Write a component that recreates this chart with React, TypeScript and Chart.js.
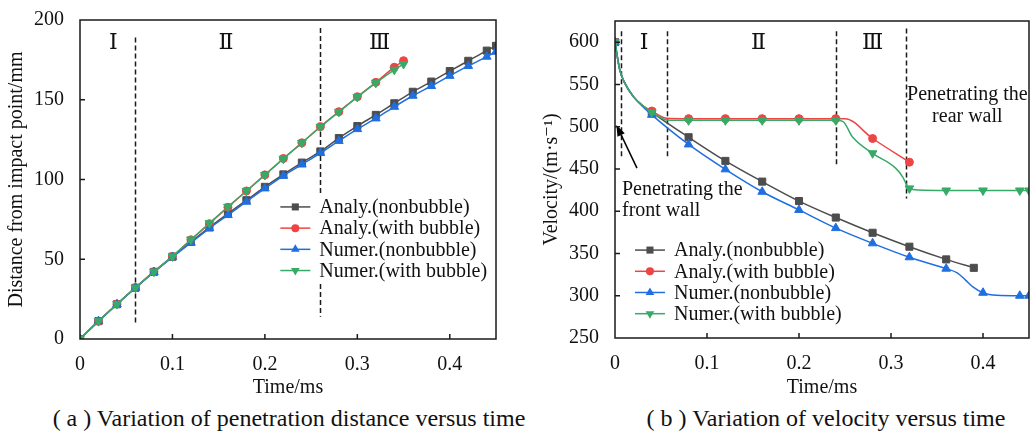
import React, { useEffect, useRef } from 'react';
import { Chart, registerables } from 'chart.js';

Chart.register(...registerables);

const FONT = "'Liberation Serif', 'Times New Roman', 'DejaVu Serif', serif";
Chart.defaults.font.family = FONT;
Chart.defaults.font.size = 20;
Chart.defaults.color = '#111';

// ---------- Panel (a): penetration distance (mm) vs time (ms) ----------
const distTimeNon = [0, 0.02, 0.04, 0.06, 0.08, 0.1, 0.12, 0.14, 0.16, 0.18, 0.2, 0.22, 0.24, 0.26, 0.28, 0.3, 0.32, 0.34, 0.36, 0.38, 0.4, 0.42, 0.44, 0.45];
const distTimeBub = [0, 0.02, 0.04, 0.06, 0.08, 0.1, 0.12, 0.14, 0.16, 0.18, 0.2, 0.22, 0.24, 0.26, 0.28, 0.3, 0.32, 0.34, 0.35];
const distAnalyNon = [0, 11.2, 21.8, 32.1, 42.1, 51.6, 60.9, 70, 78.6, 87, 95.4, 103.2, 110.6, 117.6, 126, 133.5, 140.5, 147.8, 155, 161.4, 168, 174.4, 180.8, 183.8];
const distAnalyBub = [0, 11.2, 21.9, 32.2, 42.2, 51.8, 62.2, 72.3, 82.6, 92.8, 102.9, 113.2, 123, 133.1, 142.5, 151.9, 160.9, 170.4, 174.5];
const distNumerNon = [0, 11.2, 21.8, 32.1, 42, 51.3, 60.4, 69.4, 77.7, 86.1, 94.4, 102.3, 109.4, 116.6, 124.2, 131.6, 138.3, 145.6, 152.5, 158.6, 165, 171.2, 177, 180.1];
const distNumerBub = [0, 11.2, 21.9, 32.2, 42.2, 51.8, 62.4, 72.6, 82.9, 92.8, 102.8, 113, 123, 133, 142.4, 151.7, 160.6, 168.8, 172.4];
const distXTicks = [0, 0.1, 0.2, 0.3, 0.4];
const distYTicks = [0, 50, 100, 150, 200];

// ---------- Panel (b): velocity (m/s) vs time (ms) ----------
const velTimeAnalyNon = [0, 0.005, 0.01, 0.02, 0.03, 0.04, 0.08, 0.12, 0.16, 0.2, 0.24, 0.28, 0.32, 0.36, 0.39];
const velAnalyNon = [600, 568, 553, 535.5, 525, 517, 487.5, 459.5, 435, 412, 392.5, 374.5, 358, 343, 333];
const velTimeAnalyBub = [0, 0.005, 0.01, 0.02, 0.03, 0.04, 0.05, 0.056, 0.08, 0.12, 0.16, 0.2, 0.24, 0.25, 0.28, 0.32];
const velAnalyBub = [600, 568, 553, 535.5, 525, 518.5, 512, 510, 509.5, 509.5, 509.5, 509.5, 509.5, 509.5, 486, 458];
const velTimeNumerNon = [0, 0.005, 0.01, 0.02, 0.03, 0.04, 0.08, 0.12, 0.16, 0.2, 0.24, 0.28, 0.32, 0.36, 0.372, 0.381, 0.389, 0.4, 0.415, 0.44, 0.45];
const velNumerNon = [600, 568, 553, 535.5, 524, 514, 479, 449.5, 423, 401.5, 380, 362, 345.5, 332, 327, 318.5, 310.5, 303.5, 300.5, 300, 300];
const velTimeNumerBub = [0, 0.005, 0.01, 0.02, 0.03, 0.04, 0.05, 0.056, 0.08, 0.12, 0.16, 0.2, 0.24, 0.248, 0.258, 0.28, 0.305, 0.313, 0.318, 0.32, 0.33, 0.36, 0.4, 0.44, 0.45];
const velNumerBub = [600, 568, 553, 535.5, 525, 517, 510.5, 508, 507.5, 507.5, 507.5, 507.5, 507.5, 506, 488, 468.5, 451, 440, 429, 427, 425, 424.5, 424.5, 424.5, 424.5];
const velXTicks = [0, 0.1, 0.2, 0.3, 0.4];
const velYTicks = [250, 300, 350, 400, 450, 500, 550, 600];

const SERIES_NAMES = ['Analy.(nonbubble)', 'Analy.(with bubble)', 'Numer.(nonbubble)', 'Numer.(with bubble)'];

// series styling
const COLORS = ['#4d4d4d', '#ee4444', '#1f6fe0', '#37aa68'];
const MARKERS = ['rect', 'circle', 'triangle', 'triangle'];
const ROTATIONS = [0, 0, 0, 180];
const RADII = [5, 4, 5, 5];
const DRAW_ORDER = [3, 2, 1, 0];

type Pt = { x: number; y: number };

function buildDatasets(times: number[][], values: number[][], markerStep: number) {
  return values.map((vals, k) => {
    const data: Pt[] = vals.map((v, i) => ({ x: times[k][i], y: v }));
    const isMarker = (i: number) => {
      if (i === data.length - 1) return true;
      const q = data[i].x / markerStep;
      return Math.abs(q - Math.round(q)) < 1e-6;
    };
    return {
      label: SERIES_NAMES[k],
      data,
      borderColor: COLORS[k],
      backgroundColor: COLORS[k],
      borderWidth: 1.5,
      pointStyle: MARKERS[k],
      pointRotation: ROTATIONS[k],
      pointRadius: (ctx: any) => (isMarker(ctx.dataIndex) ? RADII[k] : 0),
      pointBorderWidth: 1,
      pointBorderColor: COLORS[k],
      pointBackgroundColor: COLORS[k],
      cubicInterpolationMode: 'monotone',
      order: DRAW_ORDER[k],
    };
  });
}

function drawMarker(ctx: CanvasRenderingContext2D, k: number, x: number, y: number) {
  const r = RADII[k];
  ctx.fillStyle = COLORS[k];
  ctx.beginPath();
  if (MARKERS[k] === 'rect') {
    const s = r * Math.SQRT1_2;
    ctx.rect(x - s, y - s, 2 * s, 2 * s);
  } else if (MARKERS[k] === 'circle') {
    ctx.arc(x, y, r, 0, Math.PI * 2);
  } else {
    const dir = ROTATIONS[k] === 180 ? 1 : -1;
    const h = Math.sqrt(3) / 2 * r;
    ctx.moveTo(x, y + dir * r);
    ctx.lineTo(x + h, y - dir * r / 2);
    ctx.lineTo(x - h, y - dir * r / 2);
    ctx.closePath();
  }
  ctx.fill();
}

type Decor = {
  xTicks: number[];
  yTicks: number[];
  dashed: { t: number; from: number; to: number }[];
  numerals: { t: number; v: number; text: string }[];
  legendAt: { t: number; v: number };
  notes: { t: number; v: number; text: string; align: CanvasTextAlign }[];
  arrow?: { t0: number; v0: number; t1: number; v1: number };
};

function decorPlugin(d: Decor) {
  return {
    id: 'decor',
    beforeDatasetsDraw(chart: any) {
      const { ctx } = chart;
      const xs = chart.scales.x;
      const ys = chart.scales.y;
      ctx.save();
      ctx.strokeStyle = '#1a1a1a';
      ctx.lineWidth = 1.5;
      ctx.setLineDash([5, 3]);
      d.dashed.forEach((l) => {
        const x = Math.round(xs.getPixelForValue(l.t)) + 0.5;
        ctx.beginPath();
        ctx.moveTo(x, ys.getPixelForValue(l.to));
        ctx.lineTo(x, ys.getPixelForValue(l.from));
        ctx.stroke();
      });
      ctx.restore();
    },
    afterDraw(chart: any) {
      const { ctx, chartArea } = chart;
      const xs = chart.scales.x;
      const ys = chart.scales.y;
      const { left, right, top, bottom } = chartArea;
      ctx.save();

      // legend
      const lx = xs.getPixelForValue(d.legendAt.t);
      const ly = ys.getPixelForValue(d.legendAt.v);
      const rowH = 21.2;
      ctx.font = `20px ${FONT}`;
      const maxW = Math.max(...SERIES_NAMES.map((n) => ctx.measureText(n).width));
      ctx.fillStyle = '#fff';
      ctx.fillRect(lx - 3, ly - 11, 30 + 9 + maxW + 6, rowH * 3 + 22);
      SERIES_NAMES.forEach((name, k) => {
        const y = ly + k * rowH;
        ctx.strokeStyle = COLORS[k];
        ctx.lineWidth = 1.5;
        ctx.beginPath();
        ctx.moveTo(lx, y);
        ctx.lineTo(lx + 30, y);
        ctx.stroke();
        drawMarker(ctx, k, lx + 15, y);
        ctx.fillStyle = '#111';
        ctx.textAlign = 'left';
        ctx.textBaseline = 'middle';
        ctx.fillText(name, lx + 39, y + 1);
      });

      // stage numerals
      ctx.font = `22px ${FONT}`;
      ctx.fillStyle = '#111';
      ctx.textAlign = 'center';
      ctx.textBaseline = 'middle';
      d.numerals.forEach((n) => ctx.fillText(n.text, xs.getPixelForValue(n.t), ys.getPixelForValue(n.v)));

      // notes
      ctx.font = `20px ${FONT}`;
      d.notes.forEach((n) => {
        ctx.textAlign = n.align;
        ctx.fillText(n.text, xs.getPixelForValue(n.t), ys.getPixelForValue(n.v));
      });

      // arrow
      if (d.arrow) {
        const x0 = xs.getPixelForValue(d.arrow.t0);
        const y0 = ys.getPixelForValue(d.arrow.v0);
        const x1 = xs.getPixelForValue(d.arrow.t1);
        const y1 = ys.getPixelForValue(d.arrow.v1);
        const a = Math.atan2(y1 - y0, x1 - x0);
        const hl = 11;
        const hw = 4;
        const bx = x1 - hl * Math.cos(a);
        const by = y1 - hl * Math.sin(a);
        ctx.strokeStyle = '#000';
        ctx.lineWidth = 1.5;
        ctx.beginPath();
        ctx.moveTo(x0, y0);
        ctx.lineTo(bx, by);
        ctx.stroke();
        ctx.fillStyle = '#000';
        ctx.beginPath();
        ctx.moveTo(x1, y1);
        ctx.lineTo(bx + hw * Math.sin(a), by - hw * Math.cos(a));
        ctx.lineTo(bx - hw * Math.sin(a), by + hw * Math.cos(a));
        ctx.closePath();
        ctx.fill();
      }

      // frame and inward ticks
      ctx.strokeStyle = '#1a1a1a';
      ctx.lineWidth = 1.5;
      ctx.strokeRect(left, top, right - left, bottom - top);
      ctx.beginPath();
      d.xTicks.forEach((t) => {
        const x = xs.getPixelForValue(t);
        if (x <= left + 1 || x >= right - 1) return;
        ctx.moveTo(x, bottom);
        ctx.lineTo(x, bottom - 5);
      });
      d.yTicks.forEach((v) => {
        const y = ys.getPixelForValue(v);
        if (y <= top + 1 || y >= bottom - 1) return;
        ctx.moveTo(left, y);
        ctx.lineTo(left + 5, y);
      });
      ctx.stroke();
      ctx.restore();
    },
  };
}

function makeConfig(opts: {
  datasets: any[];
  xMax: number;
  yMin: number;
  yMax: number;
  xTicks: number[];
  yTicks: number[];
  yTitle: string;
  padding: { top: number; right: number; left: number; bottom: number };
  xHeight: number;
  decor: Decor;
}) {
  return {
    type: 'line',
    data: { datasets: opts.datasets },
    options: {
      responsive: false,
      maintainAspectRatio: false,
      animation: false,
      events: [],
      layout: { padding: opts.padding },
      plugins: { legend: { display: false }, tooltip: { enabled: false } },
      scales: {
        x: {
          type: 'linear',
          min: 0,
          max: opts.xMax,
          afterBuildTicks: (s: any) => {
            s.ticks = opts.xTicks.map((v) => ({ value: v }));
          },
          afterFit: (s: any) => {
            s.height = opts.xHeight;
          },
          grid: { display: false },
          border: { display: false },
          ticks: { padding: 6, maxRotation: 0, autoSkip: false, callback: (v: number) => String(v) },
          title: { display: true, text: 'Time/ms', padding: { top: 0, bottom: 0 } },
        },
        y: {
          type: 'linear',
          min: opts.yMin,
          max: opts.yMax,
          afterBuildTicks: (s: any) => {
            s.ticks = opts.yTicks.map((v) => ({ value: v }));
          },
          afterFit: (s: any) => {
            s.width = 80;
          },
          grid: { display: false },
          border: { display: false },
          ticks: { padding: 8, autoSkip: false, callback: (v: number) => String(v) },
          title: { display: true, text: opts.yTitle, padding: { top: 5, bottom: 0 } },
        },
      },
    },
    plugins: [decorPlugin(opts.decor)],
  };
}

const distanceConfig = () =>
  makeConfig({
    datasets: buildDatasets(
      [distTimeNon, distTimeBub, distTimeNon, distTimeBub],
      [distAnalyNon, distAnalyBub, distNumerNon, distNumerBub],
      0.02
    ),
    xMax: 0.45,
    yMin: 0,
    yMax: 200,
    xTicks: distXTicks,
    yTicks: distYTicks,
    yTitle: 'Distance from impact point/mm',
    padding: { top: 20, right: 19, left: 0, bottom: 0 },
    xHeight: 61,
    decor: {
      xTicks: distXTicks,
      yTicks: distYTicks,
      dashed: [
        { t: 0.06, from: 9.5, to: 189 },
        { t: 0.26, from: 14, to: 195 },
      ],
      numerals: [
        { t: 0.036, v: 185.5, text: 'Ⅰ' },
        { t: 0.158, v: 185.5, text: 'Ⅱ' },
        { t: 0.324, v: 185.5, text: 'Ⅲ' },
      ],
      legendAt: { t: 0.2167, v: 82.8 },
      notes: [],
    },
  });

const velocityConfig = () =>
  makeConfig({
    datasets: buildDatasets(
      [velTimeAnalyNon, velTimeAnalyBub, velTimeNumerNon, velTimeNumerBub],
      [velAnalyNon, velAnalyBub, velNumerNon, velNumerBub],
      0.04
    ),
    xMax: 0.45,
    yMin: 250,
    yMax: 625,
    xTicks: velXTicks,
    yTicks: velYTicks,
    yTitle: 'Velocity/(m·s⁻¹)',
    padding: { top: 21, right: 5, left: 0, bottom: 0 },
    xHeight: 62,
    decor: {
      xTicks: velXTicks,
      yTicks: velYTicks,
      dashed: [
        { t: 0.007, from: 463, to: 613 },
        { t: 0.056, from: 463, to: 613 },
        { t: 0.24, from: 455, to: 613 },
        { t: 0.3165, from: 415, to: 616 },
      ],
      numerals: [
        { t: 0.0315, v: 599, text: 'Ⅰ' },
        { t: 0.156, v: 599, text: 'Ⅱ' },
        { t: 0.28, v: 599, text: 'Ⅲ' },
      ],
      legendAt: { t: 0.0217, v: 354 },
      notes: [
        { t: 0.0076, v: 425, text: 'Penetrating the', align: 'left' },
        { t: 0.0076, v: 400, text: 'front wall', align: 'left' },
        { t: 0.383, v: 537.5, text: 'Penetrating the', align: 'center' },
        { t: 0.383, v: 511.5, text: 'rear wall', align: 'center' },
      ],
      arrow: { t0: 0.0239, v0: 451, t1: 0.0015, v1: 502 },
    },
  });

function ChartCanvas(props: { make: () => any; left: number; width: number; height: number }) {
  const ref = useRef<HTMLCanvasElement>(null);
  useEffect(() => {
    const chart = new Chart(ref.current as HTMLCanvasElement, props.make());
    return () => chart.destroy();
  }, []);
  return (
    <canvas
      ref={ref}
      width={props.width}
      height={props.height}
      style={{ position: 'absolute', left: props.left, top: 0, width: props.width, height: props.height }}
    />
  );
}

const captionStyle: React.CSSProperties = {
  position: 'absolute',
  top: 404,
  textAlign: 'center',
  font: `24px ${FONT}`,
  lineHeight: '28px',
  whiteSpace: 'nowrap',
  color: '#111',
};

export default function App() {
  return (
    <div
      style={{
        position: 'absolute',
        left: 0,
        top: 0,
        width: 1030,
        height: 433,
        overflow: 'hidden',
        background: '#fff',
      }}
    >
      <ChartCanvas make={distanceConfig} left={0} width={515} height={400} />
      <ChartCanvas make={velocityConfig} left={535} width={500} height={400} />
      <div style={{ ...captionStyle, left: 0, width: 578 }}>( a ) Variation of penetration distance versus time</div>
      <div style={{ ...captionStyle, left: 626, width: 400 }}>( b ) Variation of velocity versus time</div>
    </div>
  );
}
